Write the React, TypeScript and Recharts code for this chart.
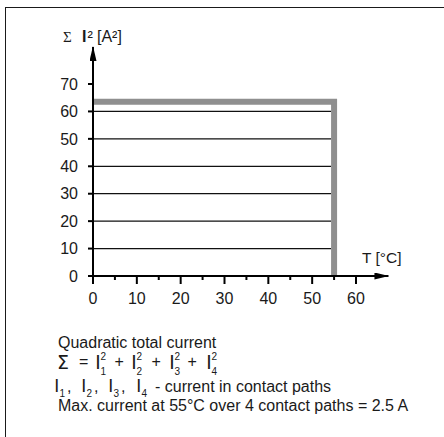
import React from "react";
import { LineChart, Line, XAxis, YAxis, ReferenceLine } from "recharts";

// temperature axis (°C)
const tempTicks = [0, 10, 20, 30, 40, 50, 60];
const minorTempTicks = [5, 15, 25, 35, 45, 55];
// sum of squared currents axis (A²)
const currentTicks = [0, 10, 20, 30, 40, 50, 60, 70];
const gridLevels = [10, 20, 30, 40, 50, 60];

// derating limit: constant up to 55 °C, then cut off
const limitTemps = [0, 55, 55];
const limitValues = [63.5, 63.5, 0];

const gridEnd = 54.3;
const xArrowEnd = 67.4;
const yArrowEnd = 83.5;

const limitData = limitTemps.map((t, i) => ({ t, i2: limitValues[i] }));
const allTempTicks = [...tempTicks, ...minorTempTicks].sort((a, b) => a - b);

const FONT = '"Liberation Sans", Arial, Helvetica, sans-serif';
const TEXT = "#1a1a1a";

const XTick = (props: any) => {
  const { x, y, payload } = props;
  const major = payload.value % 10 === 0;
  return (
    <g>
      <line x1={x} x2={x} y1={y} y2={y + (major ? 8 : 4)} stroke="#000" strokeWidth={2} />
      {major && (
        <text x={x} y={y + 17} dy="0.71em" textAnchor="middle" fontSize={16} fill={TEXT}>
          {payload.value}
        </text>
      )}
    </g>
  );
};

const arrowLine = (p: any) => (
  <line x1={p.x1} y1={p.y1} x2={p.x2} y2={p.y2} stroke="#000" strokeWidth={2} markerEnd="url(#arrowHead)" />
);

// tall "I" with stacked index / exponent; x = left edge of the stroke
const CurrentSym = ({ x, y, size, sub, sup, subDy }: any) => (
  <>
    <text x={x - 0.093 * size} y={y} fontSize={size}>
      I
    </text>
    {sup && (
      <text x={x + 3.5} y={y - 8.8} fontSize={10}>
        {sup}
      </text>
    )}
    <text x={x + 3.5} y={y + subDy} fontSize={10}>
      {sub}
    </text>
  </>
);

const formulaI = [97, 133, 171, 208];
const formulaPlus = [115, 152, 188];
const pathI = [56, 83, 110, 138];

export default function App() {
  return (
    <div
      style={{
        position: "absolute",
        left: 0,
        top: 0,
        width: 444,
        height: 437,
        overflow: "hidden",
        background: "#fff",
        fontFamily: FONT,
        color: TEXT,
      }}
    >
      <svg width={0} height={0} style={{ position: "absolute" }}>
        <defs>
          <marker
            id="arrowHead"
            viewBox="0 0 15 7"
            refX={14}
            refY={3.5}
            markerWidth={15}
            markerHeight={7}
            markerUnits="userSpaceOnUse"
            orient="auto"
          >
            <path d="M0,0 L15,3.5 L0,7 z" fill="#000" />
          </marker>
        </defs>
      </svg>

      {/* frame */}
      <div
        style={{
          position: "absolute",
          left: 4.5,
          top: 6.5,
          width: 460,
          height: 460,
          borderLeft: "1.5px solid #1a1a1a",
          borderTop: "1.5px solid #1a1a1a",
        }}
      />

      <div style={{ position: "absolute", left: 0, top: 0 }}>
        <LineChart
          width={444}
          height={437}
          data={limitData}
          margin={{ top: 84, right: 88, bottom: 131, left: 33 }}
        >
          <XAxis
            type="number"
            dataKey="t"
            domain={[0, 60]}
            ticks={allTempTicks}
            interval={0}
            height={30}
            axisLine={false}
            tickLine={false}
            tickSize={0}
            tickMargin={0}
            tick={<XTick />}
          />
          <YAxis
            type="number"
            domain={[0, 70]}
            ticks={currentTicks}
            interval={0}
            width={60}
            axisLine={false}
            tickSize={5}
            tickMargin={10}
            tickLine={{ stroke: "#000", strokeWidth: 2 }}
            tick={{ fill: TEXT, fontSize: 16 }}
          />
          {gridLevels.map((v) => (
            <ReferenceLine
              key={v}
              segment={[
                { x: 0, y: v },
                { x: gridEnd, y: v },
              ]}
              stroke="#111"
              strokeWidth={1.2}
              ifOverflow="visible"
            />
          ))}
          <Line
            dataKey="i2"
            type="linear"
            stroke="#8f8f8f"
            strokeWidth={6}
            strokeLinejoin="miter"
            dot={false}
            activeDot={false}
            isAnimationActive={false}
          />
          <ReferenceLine
            segment={[
              { x: 0, y: 0 },
              { x: xArrowEnd, y: 0 },
            ]}
            ifOverflow="visible"
            shape={arrowLine}
          />
          <ReferenceLine
            segment={[
              { x: 0, y: 0 },
              { x: 0, y: yArrowEnd },
            ]}
            ifOverflow="visible"
            shape={arrowLine}
          />
        </LineChart>
      </div>

      {/* axis titles and notes */}
      <svg
        width={444}
        height={437}
        style={{ position: "absolute", left: 0, top: 0, pointerEvents: "none" }}
        fill={TEXT}
        fontFamily={FONT}
      >
        <text x={63} y={41.5} fontSize={15} fontFamily='"Liberation Serif", serif'>
          Σ
        </text>
        <text x={82} y={42} fontSize={16} fontWeight="bold">
          I
        </text>
        <text x={87.5} y={42} fontSize={16}>
          ²
        </text>
        <text x={97} y={42} fontSize={16}>
          [A²]
        </text>
        <text x={362} y={262.5} fontSize={15.5}>
          T [°C]
        </text>

        <text x={58} y={347.5} fontSize={16}>
          Quadratic total current
        </text>

        <text x={57} y={369} fontSize={19} fontFamily='"DejaVu Sans", sans-serif'>
          Σ
        </text>
        <text x={79} y={366.6} fontSize={16}>
          =
        </text>
        {formulaI.map((x, i) => (
          <CurrentSym key={x} x={x} y={369} size={19.5} sup="2" sub={String(i + 1)} subDy={6} />
        ))}
        {formulaPlus.map((x) => (
          <text key={x} x={x - 0.5} y={366.6} fontSize={16}>
            +
          </text>
        ))}

        {pathI.map((x, i) => (
          <React.Fragment key={x}>
            <CurrentSym x={x} y={392} size={18} sub={String(i + 1)} subDy={5} />
            {i < pathI.length - 1 && (
              <text x={x + 11} y={392} fontSize={16}>
                ,
              </text>
            )}
          </React.Fragment>
        ))}
        <text x={155} y={392} fontSize={16}>
          - current in contact paths
        </text>

        <text x={58} y={411} fontSize={16}>
          Max. current at 55°C over 4 contact paths = 2.5 A
        </text>
      </svg>
    </div>
  );
}
